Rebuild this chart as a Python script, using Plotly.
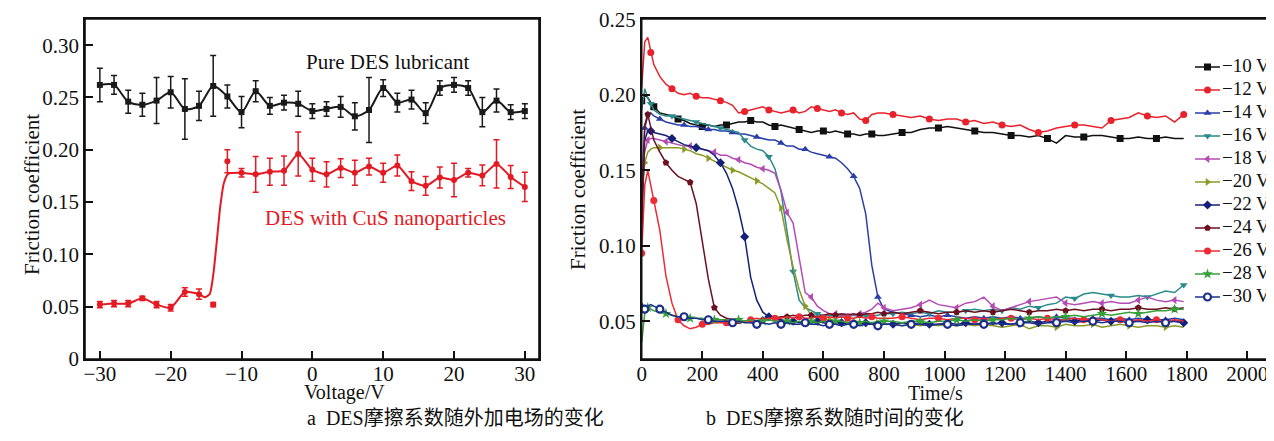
import plotly.graph_objects as go

# ---------------- Panel a: friction coefficient vs voltage ----------------
voltage = [-30, -28, -26, -24, -22, -20, -18, -16, -14, -12, -10, -8, -6, -4, -2, 0,
           2, 4, 6, 8, 10, 12, 14, 16, 18, 20, 22, 24, 26, 28, 30]
pure_mu = [0.262, 0.262, 0.246, 0.243, 0.247, 0.255, 0.239, 0.242, 0.261, 0.251, 0.236,
           0.256, 0.242, 0.245, 0.244, 0.237, 0.239, 0.241, 0.232, 0.238, 0.259, 0.245,
           0.248, 0.235, 0.259, 0.262, 0.259, 0.236, 0.247, 0.236, 0.237]
pure_err = [0.016, 0.009, 0.011, 0.011, 0.022, 0.015, 0.029, 0.014, 0.029, 0.011, 0.015,
            0.010, 0.008, 0.007, 0.012, 0.007, 0.007, 0.010, 0.013, 0.031, 0.008, 0.009,
            0.009, 0.010, 0.007, 0.007, 0.007, 0.014, 0.011, 0.007, 0.007]
cus_mu = [0.052, 0.053, 0.053, 0.058, 0.052, 0.049, 0.064, 0.062, 0.052, 0.189, 0.178,
          0.1765, 0.179, 0.180, 0.196, 0.181, 0.1765, 0.1825, 0.178, 0.184, 0.178, 0.185,
          0.170, 0.1655, 0.1735, 0.171, 0.178, 0.1755, 0.1865, 0.174, 0.1645]
cus_err = [0.003, 0.003, 0.003, 0.002, 0.003, 0.003, 0.004, 0.005, 0.002, 0.011, 0.004,
           0.017, 0.013, 0.014, 0.021, 0.011, 0.012, 0.009, 0.012, 0.008, 0.009, 0.010,
           0.009, 0.009, 0.010, 0.016, 0.004, 0.010, 0.023, 0.011, 0.014]
# fitted transition of the red curve, outliers excluded from fit
cus_outliers = [-14, -12]
cus_fit_v = [-15.2, -14.5, -14.0, -13.5, -13.0, -12.5, -11.9]
cus_fit_mu = [0.059, 0.062, 0.080, 0.112, 0.146, 0.168, 0.177]

# ---------------- Panel b: friction coefficient vs time ----------------
time_s = [0, 10, 20, 30, 40,
          60, 80, 100, 120, 140, 160, 180, 200, 220, 240,
          260, 280, 300, 320, 340, 360, 380, 400, 420, 440,
          460, 480, 500, 520, 540, 560, 580, 600, 620, 640,
          660, 680, 700, 720, 740, 760, 780, 800,
          830, 860, 890, 920, 950, 980, 1010, 1040, 1070, 1100,
          1130, 1160, 1190, 1220, 1250, 1280, 1310, 1340, 1370, 1400,
          1430, 1460, 1490, 1520, 1550, 1580, 1610, 1640, 1670, 1700,
          1730, 1760, 1790]

mu_m10 = [0.196, 0.200, 0.198, 0.195, 0.192,
          0.188, 0.187, 0.186, 0.184, 0.183, 0.181, 0.180, 0.179, 0.180, 0.179,
          0.180, 0.180, 0.181, 0.182, 0.182, 0.183, 0.182, 0.182, 0.180, 0.179,
          0.180, 0.179, 0.178, 0.177, 0.176, 0.175, 0.176, 0.176, 0.175, 0.176,
          0.175, 0.174, 0.174, 0.173, 0.174, 0.174, 0.173, 0.173,
          0.174, 0.175, 0.175, 0.177, 0.178, 0.178, 0.179, 0.178, 0.177, 0.176,
          0.175, 0.175, 0.174, 0.173, 0.173, 0.172, 0.173, 0.171, 0.168, 0.173,
          0.172, 0.172, 0.173, 0.173, 0.172, 0.171, 0.171, 0.172, 0.171, 0.171,
          0.172, 0.171, 0.171]
mu_m12 = [0.205, 0.235, 0.238, 0.228, 0.220,
          0.212, 0.207, 0.204, 0.201, 0.200, 0.201, 0.199, 0.198, 0.198, 0.197,
          0.196, 0.195, 0.193, 0.188, 0.189, 0.190, 0.191, 0.192, 0.190, 0.189,
          0.188, 0.189, 0.190, 0.188, 0.189, 0.192, 0.191, 0.190, 0.189, 0.190,
          0.188, 0.187, 0.188, 0.184, 0.183, 0.187, 0.188, 0.188,
          0.187, 0.186, 0.185, 0.186, 0.184, 0.183, 0.184, 0.184, 0.182, 0.183,
          0.181, 0.182, 0.180, 0.179, 0.180, 0.177, 0.175, 0.176, 0.178, 0.179,
          0.180, 0.180, 0.179, 0.178, 0.183, 0.184, 0.185, 0.188, 0.186, 0.185,
          0.186, 0.182, 0.187]
mu_m14 = [0.140, 0.178, 0.186, 0.188, 0.186,
          0.184, 0.182, 0.181, 0.180, 0.180, 0.179, 0.179, 0.178, 0.177, 0.177,
          0.176, 0.176, 0.175, 0.174, 0.174, 0.173, 0.172, 0.171, 0.170, 0.170,
          0.168, 0.166, 0.166, 0.164, 0.164, 0.162, 0.161, 0.160, 0.159, 0.158,
          0.155, 0.151, 0.146, 0.138, 0.121, 0.087, 0.066, 0.058,
          0.056, 0.055, 0.054, 0.053, 0.054, 0.053, 0.054, 0.053, 0.052, 0.053,
          0.052, 0.053, 0.052, 0.053, 0.052, 0.052, 0.053, 0.052, 0.053, 0.052,
          0.052, 0.051, 0.052, 0.052, 0.051, 0.052, 0.051, 0.052, 0.051, 0.051,
          0.051, 0.052, 0.051]
mu_m16 = [0.190, 0.204, 0.198, 0.194, 0.190,
          0.187, 0.186, 0.186, 0.185, 0.184, 0.183, 0.182, 0.181, 0.180, 0.179,
          0.178, 0.177, 0.176, 0.175, 0.170, 0.166, 0.164, 0.163, 0.159, 0.151,
          0.136, 0.108, 0.083, 0.064, 0.059, 0.057, 0.055, 0.054, 0.054, 0.053,
          0.054, 0.053, 0.054, 0.053, 0.054, 0.053, 0.054, 0.055,
          0.055, 0.056, 0.055, 0.056, 0.055, 0.057, 0.056, 0.056, 0.057, 0.058,
          0.057, 0.058, 0.057, 0.059, 0.058, 0.060, 0.059, 0.061, 0.062, 0.066,
          0.065, 0.068, 0.069, 0.068, 0.067, 0.066, 0.066, 0.067, 0.066, 0.068,
          0.070, 0.069, 0.074]
mu_m18 = [0.150, 0.162, 0.170, 0.171, 0.171,
          0.170, 0.169, 0.168, 0.167, 0.166, 0.166, 0.165, 0.164, 0.163, 0.162,
          0.160, 0.160, 0.158, 0.157, 0.155, 0.154, 0.152, 0.151, 0.150, 0.148,
          0.137, 0.122, 0.115, 0.092, 0.069, 0.066, 0.060, 0.057, 0.055, 0.055,
          0.054, 0.055, 0.054, 0.055, 0.056, 0.058, 0.062, 0.059,
          0.057, 0.058, 0.059, 0.061, 0.064, 0.061, 0.060, 0.059, 0.062, 0.063,
          0.066, 0.060, 0.057, 0.059, 0.061, 0.063, 0.064, 0.065, 0.066, 0.062,
          0.061, 0.062, 0.063, 0.062, 0.063, 0.062, 0.062, 0.064, 0.066, 0.064,
          0.063, 0.064, 0.063]
mu_m20 = [0.130, 0.155, 0.162, 0.164, 0.165,
          0.165, 0.165, 0.165, 0.165, 0.164, 0.163, 0.161, 0.160, 0.158, 0.156,
          0.154, 0.152, 0.150, 0.149, 0.147, 0.145, 0.143, 0.141, 0.138, 0.135,
          0.125, 0.104, 0.086, 0.071, 0.060, 0.054, 0.052, 0.051, 0.051, 0.050,
          0.050, 0.049, 0.050, 0.049, 0.049, 0.048, 0.049, 0.048,
          0.048, 0.047, 0.048, 0.047, 0.048, 0.047, 0.048, 0.047, 0.048, 0.047,
          0.048, 0.047, 0.046, 0.047, 0.048, 0.045, 0.047, 0.047, 0.046, 0.048,
          0.047, 0.047, 0.048, 0.046, 0.047, 0.048, 0.047, 0.046, 0.047, 0.047,
          0.046, 0.047, 0.046]
mu_m22 = [0.120, 0.170, 0.176, 0.176, 0.175,
          0.174, 0.173, 0.171, 0.169, 0.167, 0.166, 0.165, 0.164, 0.163, 0.160,
          0.155, 0.148, 0.138, 0.124, 0.106, 0.079, 0.064, 0.056, 0.053, 0.052,
          0.051, 0.050, 0.050, 0.049, 0.050, 0.049, 0.050, 0.049, 0.048, 0.049,
          0.049, 0.048, 0.049, 0.048, 0.049, 0.048, 0.049, 0.048,
          0.048, 0.049, 0.048, 0.049, 0.048, 0.048, 0.049, 0.048, 0.049, 0.048,
          0.049, 0.048, 0.049, 0.048, 0.049, 0.050, 0.049, 0.050, 0.050, 0.051,
          0.050, 0.051, 0.050, 0.051, 0.050, 0.051, 0.050, 0.050, 0.051, 0.050,
          0.051, 0.050, 0.049]
mu_m24 = [0.105, 0.180, 0.187, 0.178, 0.170,
          0.162, 0.155, 0.150, 0.146, 0.144, 0.142, 0.128, 0.104, 0.078, 0.059,
          0.054, 0.052, 0.051, 0.050, 0.050, 0.051, 0.050, 0.051, 0.052, 0.052,
          0.053, 0.053, 0.054, 0.053, 0.054, 0.054, 0.053, 0.054, 0.055, 0.054,
          0.055, 0.054, 0.055, 0.054, 0.055, 0.055, 0.056, 0.055,
          0.056, 0.055, 0.056, 0.057, 0.056, 0.055, 0.056, 0.056, 0.057, 0.056,
          0.057, 0.056, 0.057, 0.058, 0.057, 0.056, 0.057, 0.057, 0.058, 0.057,
          0.058, 0.057, 0.058, 0.058, 0.057, 0.058, 0.058, 0.059, 0.058, 0.058,
          0.059, 0.058, 0.059]
mu_m26 = [0.095, 0.140, 0.150, 0.140, 0.130,
          0.110, 0.080, 0.062, 0.051, 0.047, 0.045, 0.046, 0.048, 0.048, 0.049,
          0.049, 0.049, 0.050, 0.049, 0.050, 0.051, 0.052, 0.051, 0.052, 0.052,
          0.052, 0.053, 0.052, 0.053, 0.052, 0.052, 0.053, 0.052, 0.053, 0.052,
          0.053, 0.052, 0.052, 0.053, 0.052, 0.053, 0.052, 0.052,
          0.052, 0.053, 0.052, 0.051, 0.052, 0.052, 0.051, 0.052, 0.052, 0.051,
          0.052, 0.051, 0.052, 0.052, 0.051, 0.052, 0.051, 0.052, 0.051, 0.051,
          0.052, 0.051, 0.052, 0.051, 0.050, 0.051, 0.050, 0.051, 0.050, 0.051,
          0.050, 0.051, 0.050]
mu_m28 = [0.036, 0.055, 0.059, 0.058, 0.057,
          0.056, 0.055, 0.054, 0.053, 0.053, 0.052, 0.052, 0.052, 0.051, 0.051,
          0.051, 0.051, 0.050, 0.051, 0.050, 0.051, 0.050, 0.050, 0.051, 0.050,
          0.050, 0.050, 0.049, 0.050, 0.049, 0.050, 0.049, 0.050, 0.049, 0.050,
          0.050, 0.049, 0.050, 0.049, 0.050, 0.049, 0.050, 0.050,
          0.050, 0.049, 0.050, 0.050, 0.049, 0.050, 0.050, 0.051, 0.050, 0.051,
          0.050, 0.051, 0.051, 0.052, 0.051, 0.052, 0.053, 0.052, 0.053, 0.053,
          0.054, 0.053, 0.054, 0.055, 0.054, 0.055, 0.056, 0.055, 0.056, 0.057,
          0.057, 0.058, 0.058]
mu_m30 = [0.062, 0.058, 0.060, 0.061, 0.060,
          0.058, 0.056, 0.054, 0.053, 0.053, 0.052, 0.052, 0.051, 0.051, 0.050,
          0.050, 0.050, 0.049, 0.050, 0.049, 0.049, 0.048, 0.049, 0.048, 0.049,
          0.048, 0.049, 0.048, 0.048, 0.049, 0.048, 0.048, 0.047, 0.048, 0.048,
          0.047, 0.048, 0.048, 0.047, 0.048, 0.048, 0.047, 0.048,
          0.048, 0.047, 0.048, 0.048, 0.047, 0.048, 0.048, 0.047, 0.048, 0.048,
          0.048, 0.049, 0.048, 0.048, 0.049, 0.049, 0.048, 0.049, 0.049, 0.050,
          0.049, 0.050, 0.050, 0.049, 0.050, 0.050, 0.049, 0.050, 0.049, 0.050,
          0.049, 0.050, 0.049]

series_names = ["\u221210 V", "\u221212 V", "\u221214 V", "\u221216 V", "\u221218 V", "\u221220 V",
                "\u221222 V", "\u221224 V", "\u221226 V", "\u221228 V", "\u221230 V"]
series_values = [mu_m10, mu_m12, mu_m14, mu_m16, mu_m18, mu_m20, mu_m22, mu_m24, mu_m26, mu_m28, mu_m30]
series_colors = ["#111111", "#e8212b", "#2a3fa8", "#2a8a8c", "#b44cb4", "#8c9a26",
                 "#15207a", "#6b1020", "#ee2a35", "#35a03a", "#1e2f8a"]
series_symbols = ["square", "circle", "triangle-up", "triangle-down", "triangle-left",
                  "triangle-right", "diamond", "pentagon", "circle", "star", "circle"]

# ---------------- Figure geometry (page body adds an 8px offset) ----------------
OFF = 8
W, H = 1274 - OFF, 441 - OFF


def px(x):  # screen x pixel -> paper fraction
    return (x - OFF) / W


def py(y):  # screen y pixel -> paper fraction
    return (H - (y - OFF)) / H


SERIF = "Liberation Serif, Times New Roman, serif"
CAPTION_FONT = "Liberation Serif, Noto Sans CJK SC, serif"
INK = "#111111"
fig = go.Figure()

# black: pure DES
fig.add_trace(go.Scatter(
    x=voltage, y=pure_mu, mode="lines+markers",
    line=dict(color="#1a1a1a", width=2, shape="spline", smoothing=0.8),
    marker=dict(symbol="square", size=6, color="#1a1a1a"),
    error_y=dict(type="data", array=pure_err, color="#1a1a1a", thickness=1.5, width=3),
    showlegend=False, xaxis="x", yaxis="y"))

# red: DES + CuS (line = smooth fit, points with error bars)
fit_pts = [(v, m) for v, m in zip(voltage, cus_mu) if v not in cus_outliers] + list(zip(cus_fit_v, cus_fit_mu))
fit_pts.sort()
fig.add_trace(go.Scatter(
    x=[p[0] for p in fit_pts], y=[p[1] for p in fit_pts], mode="lines",
    line=dict(color="#e31a24", width=2, shape="spline", smoothing=0.6),
    showlegend=False, xaxis="x", yaxis="y"))
fig.add_trace(go.Scatter(
    x=voltage, y=cus_mu, mode="markers",
    marker=dict(symbol="circle", size=6, color="#e31a24"),
    error_y=dict(type="data", array=cus_err, color="#e31a24", thickness=1.5, width=3),
    showlegend=False, xaxis="x", yaxis="y"))


def marker_style(name, col, sym, size=7):
    if name == "\u221230 V":
        return dict(symbol="circle", size=size, color="#ffffff", line=dict(color=col, width=2.2))
    return dict(symbol=sym, size=size + (1 if sym == "star" else 0), color=col)


# right panel series
for name, vals, col, sym in zip(series_names, series_values, series_colors, series_symbols):
    mk = marker_style(name, col, sym)
    mk["maxdisplayed"] = 22
    fig.add_trace(go.Scatter(
        x=time_s, y=vals, mode="lines+markers", name=name, showlegend=False,
        line=dict(color=col, width=1.5), marker=mk, xaxis="x2", yaxis="y2"))

# legend drawn on its own small axis (rows = series index)
LEG_LINE = [0, 25]
for i, (name, col, sym) in enumerate(zip(series_names, series_colors, series_symbols)):
    fig.add_trace(go.Scatter(x=LEG_LINE, y=[i, i], mode="lines", line=dict(color=col, width=1.5),
                             showlegend=False, hoverinfo="skip", xaxis="x3", yaxis="y3"))
    fig.add_trace(go.Scatter(x=[sum(LEG_LINE) / 2], y=[i], mode="markers", marker=marker_style(name, col, sym),
                             showlegend=False, hoverinfo="skip", xaxis="x3", yaxis="y3"))
    fig.add_trace(go.Scatter(x=[LEG_LINE[1] + 2], y=[i], mode="text", text=[name], textposition="middle right",
                             textfont=dict(family=SERIF, size=19, color=INK),
                             showlegend=False, hoverinfo="skip", xaxis="x3", yaxis="y3"))

axis_common = dict(showgrid=False, zeroline=False, showline=True, linecolor=INK, linewidth=1.6,
                   ticks="inside", ticklen=8, tickwidth=1.6, tickcolor=INK, automargin=False,
                   ticklabeloverflow="allow",
                   tickfont=dict(family=SERIF, size=21, color=INK))
hidden = dict(visible=False, showgrid=False, zeroline=False, fixedrange=True)
ydom = [py(359), py(19)]

fig.update_layout(
    width=W, height=H, margin=dict(l=0, r=0, t=0, b=0, autoexpand=False),
    paper_bgcolor="white", plot_bgcolor="rgba(0,0,0,0)", showlegend=False,
    xaxis=dict(domain=[px(85), px(539)], range=[-32.1, 32.0], mirror=True,
               tickvals=[-30, -20, -10, 0, 10, 20, 30],
               ticktext=["\u221230", "\u221220", "\u221210", "0", "10", "20", "30"],
               ticklabelstandoff=-5, anchor="y", **axis_common),
    yaxis=dict(domain=ydom, range=[0, 0.325], mirror=True,
               tickvals=[0, 0.05, 0.10, 0.15, 0.20, 0.25, 0.30],
               ticktext=["0", "0.05", "0.10", "0.15", "0.20", "0.25", "0.30"],
               ticklabelstandoff=0, anchor="x", **axis_common),
    xaxis2=dict(domain=[px(641.7), px(1272)], range=[0, 2081.6], mirror=True,
                tickvals=[0, 200, 400, 600, 800, 1000, 1200, 1400, 1600, 1800, 2000],
                ticklabelstandoff=-5, anchor="y2", **axis_common),
    yaxis2=dict(domain=ydom, range=[0.025, 0.2502], mirror=False,
                tickvals=[0.05, 0.10, 0.15, 0.20, 0.25],
                ticktext=["0.05", "0.10", "0.15", "0.20", "0.25"],
                ticklabelstandoff=0, anchor="x2", **axis_common),
    xaxis3=dict(domain=[px(1195), px(1274)], range=[0, 79], anchor="y3", **hidden),
    yaxis3=dict(domain=[py(297 + 11.5), py(67 - 11.5)], range=[10.5, -0.5], anchor="x3", **hidden),
    font=dict(family=SERIF, color=INK),
)

# frame lines (box for panel a; left/bottom/top for panel b)
frame = dict(color=INK, width=1.6)
fig.add_shape(type="rect", xref="x domain", yref="y domain", x0=0, x1=1, y0=0, y1=1, line=frame)
fig.add_shape(type="line", xref="x2 domain", yref="y2 domain", x0=0, x1=0, y0=0, y1=1, line=frame)
fig.add_shape(type="line", xref="x2 domain", yref="y2 domain", x0=0, x1=1, y0=0, y1=0, line=frame)
fig.add_shape(type="line", xref="x2 domain", yref="y2 domain", x0=0, x1=1, y0=1, y1=1, line=frame)

ann_font = dict(family=SERIF, size=21, color=INK)
title_font = dict(family=SERIF, size=20, color=INK)
fig.add_annotation(text="Pure DES lubricant", x=10.6, y=0.284, xref="x", yref="y",
                   showarrow=False, font=ann_font)
fig.add_annotation(text="DES with CuS nanoparticles", x=10.3, y=0.1348, xref="x", yref="y",
                   showarrow=False, font=dict(family=SERIF, size=21, color="#e31a24"))
fig.add_annotation(text="Voltage/V", x=px(302), y=py(406), xref="paper", yref="paper",
                   showarrow=False, font=title_font)
fig.add_annotation(text="Time/s", x=px(965), y=py(406), xref="paper", yref="paper",
                   showarrow=False, font=title_font)
fig.add_annotation(text="Friction coefficient", x=px(18), y=py(195), xref="paper", yref="paper",
                   showarrow=False, textangle=-90, font=ann_font)
fig.add_annotation(text="Friction coefficient", x=px(578), y=py(190), xref="paper", yref="paper",
                   showarrow=False, textangle=-90, font=ann_font)
cap_font = dict(family=CAPTION_FONT, size=20, color=INK)
fig.add_annotation(text="a  DES摩擦系数随外加电场的变化", x=px(305), y=py(431), xref="paper", yref="paper",
                   showarrow=False, font=cap_font)
fig.add_annotation(text="b  DES摩擦系数随时间的变化", x=px(966), y=py(431), xref="paper", yref="paper",
                   showarrow=False, font=cap_font)

fig.write_html("out.html")
